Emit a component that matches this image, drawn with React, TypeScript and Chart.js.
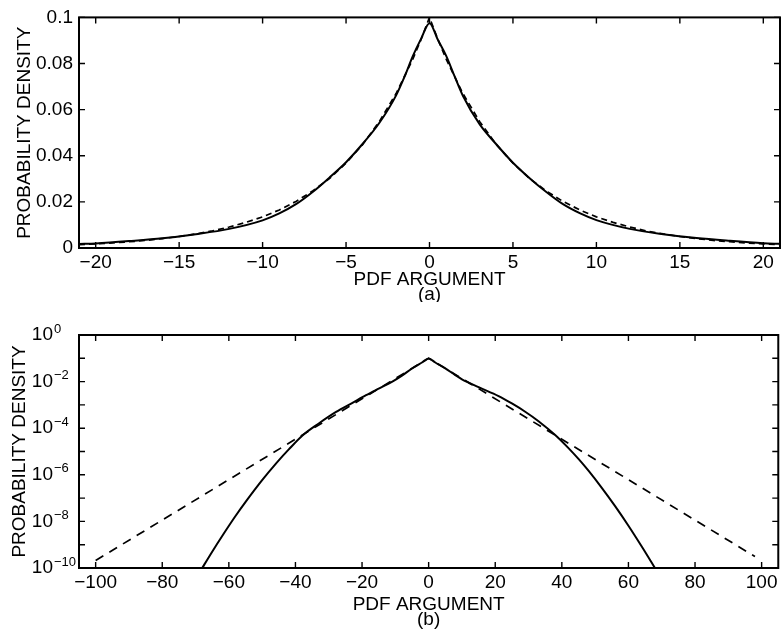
import React, { useEffect, useRef } from "react";
import { Chart, registerables } from "chart.js";
Chart.register(...registerables);

const FONT = "'Liberation Sans', Arial, Helvetica, sans-serif";
const FS = 19;

// ---------- Panel (a): linear density ----------
const A_X_TICKS = [-20, -15, -10, -5, 0, 5, 10, 15, 20];
const A_X_LABELS = ["\u221220", "\u221215", "\u221210", "\u22125", "0", "5", "10", "15", "20"];
const A_Y_TICKS = [0, 0.02, 0.04, 0.06, 0.08, 0.1];
const A_Y_LABELS = ["0", "0.02", "0.04", "0.06", "0.08", "0.1"];

const A_SOLID_X = [-21, -20, -18, -16, -14, -12, -10, -9, -8, -7, -6, -5, -4, -3, -2, -1.5, -1, -0.5, 0, 0.5, 1, 1.5, 2, 3, 4, 5, 6, 7, 8, 9, 10, 12, 14, 16, 18, 20, 21];
const A_SOLID_Y = [0.0017, 0.0020, 0.0030, 0.0042, 0.0060, 0.0083, 0.0120, 0.0150, 0.0190, 0.0243, 0.0305, 0.0372, 0.0452, 0.0543, 0.0662, 0.0742, 0.0832, 0.0908, 0.0975, 0.0903, 0.0833, 0.0745, 0.0660, 0.0537, 0.0450, 0.0370, 0.0303, 0.0243, 0.0190, 0.0151, 0.0121, 0.0083, 0.0060, 0.0043, 0.0031, 0.0021, 0.0018];

const A_DASH_X = [-21, -20, -19, -18, -17, -16, -15, -14, -13, -12, -11, -10, -9, -8, -7, -6, -5, -4, -3, -2, -1, -0.5, 0, 0.5, 1, 2, 3, 4, 5, 6, 7, 8, 9, 10, 11, 12, 13, 14, 15, 16, 17, 18, 19, 20, 21];
const A_DASH_Y = [0.0015, 0.0018, 0.0022, 0.0027, 0.0033, 0.0041, 0.0050, 0.0061, 0.0074, 0.0091, 0.0111, 0.0135, 0.0165, 0.0202, 0.0247, 0.0301, 0.0368, 0.0449, 0.0549, 0.0670, 0.0819, 0.0905, 0.1000, 0.0905, 0.0819, 0.0670, 0.0549, 0.0449, 0.0368, 0.0301, 0.0247, 0.0202, 0.0165, 0.0135, 0.0111, 0.0091, 0.0074, 0.0061, 0.0050, 0.0041, 0.0033, 0.0027, 0.0022, 0.0018, 0.0015];

// ---------- Panel (b): log density ----------
const B_X_TICKS = [-100, -80, -60, -40, -20, 0, 20, 40, 60, 80, 100];
const B_X_LABELS = ["\u2212100", "\u221280", "\u221260", "\u221240", "\u221220", "0", "20", "40", "60", "80", "100"];
const B_Y_TICKS = [1, 1e-1, 1e-2, 1e-3, 1e-4, 1e-5, 1e-6, 1e-7, 1e-8, 1e-9, 1e-10];
const B_Y_EXP_LABELS = ["0", "", "\u22122", "", "\u22124", "", "\u22126", "", "\u22128", "", "\u221210"];

const B_SOLID_X = [-68.5, -65, -61.8, -58, -54.8, -50, -45.8, -42, -37.8, -33, -27.8, -23, -18.8, -15, -10.9, -8, -5, -2, 0, 2, 5, 8, 10, 15, 21, 25, 29, 33, 38, 42, 45, 48, 52, 56, 60, 64, 68.3];
const B_SOLID_Y = [7.6e-11, 5.0e-10, 2.6e-9, 1.7e-8, 7.4e-8, 5.9e-7, 3.1e-6, 1.23e-5, 5.0e-5, 1.6e-4, 5.0e-4, 1.2e-3, 2.6e-3, 5.0e-3, 1.0e-2, 0.018, 0.0365, 0.066, 0.0975, 0.066, 0.0372, 0.019, 0.0126, 0.0058, 0.0024, 1.15e-3, 5.1e-4, 2.0e-4, 5.1e-5, 1.4e-5, 4.8e-6, 1.5e-6, 2.75e-7, 4.5e-8, 6.5e-9, 8.3e-10, 8.3e-11];

const B_DASH_X = [-100, 0, 98];
const B_DASH_Y = [2.1e-10, 0.1, 3.1e-10];

const pts = (xs: number[], ys: number[]) => xs.map((x, i) => ({ x, y: ys[i] }));

const framePlugin = {
  id: "frameTicks",
  afterDraw(chart: any, _args: any, opts: any) {
    const { ctx, chartArea: a } = chart;
    const xs = chart.scales.x;
    const ys = chart.scales.y;
    const L = 6;
    ctx.save();
    ctx.strokeStyle = "#000";
    ctx.lineWidth = 2;
    ctx.strokeRect(a.left, a.top, a.right - a.left, a.bottom - a.top);
    ctx.lineWidth = 1.4;
    ctx.beginPath();
    xs.ticks.forEach((t: any) => {
      const p = xs.getPixelForValue(t.value);
      ctx.moveTo(p, a.bottom);
      ctx.lineTo(p, a.bottom - L);
      ctx.moveTo(p, a.top);
      ctx.lineTo(p, a.top + L);
    });
    ys.ticks.forEach((t: any) => {
      const p = ys.getPixelForValue(t.value);
      ctx.moveTo(a.left, p);
      ctx.lineTo(a.left + L, p);
      ctx.moveTo(a.right, p);
      ctx.lineTo(a.right - L, p);
    });
    ctx.stroke();
    if (opts && opts.powerLabels) {
      ctx.fillStyle = "#000";
      ctx.textBaseline = "middle";
      ys.ticks.forEach((t: any, i: number) => {
        const lab = opts.powerLabels[i];
        if (!lab) return;
        const p = ys.getPixelForValue(t.value);
        ctx.font = `${FS}px ${FONT}`;
        ctx.textAlign = "right";
        ctx.fillText("10", 53, p);
        ctx.font = `13px ${FONT}`;
        ctx.textAlign = "left";
        ctx.fillText(lab, 54, p - 6);
      });
    }
    ctx.restore();
  },
};

function makeConfig(opts: {
  solid: { x: number; y: number }[];
  dashed: { x: number; y: number }[];
  dash: number[];
  xMin: number;
  xMax: number;
  xTicks: number[];
  xLabels: string[];
  yType: "linear" | "logarithmic";
  yMin: number;
  yMax: number;
  yTicks: number[];
  yLabels: string[] | null;
  powerLabels: string[] | null;
  padTop: number;
  xAxisH: number;
  yTitlePad: number;
  xTitlePadBottom: number;
  sub: string;
}) {
  return {
    type: "line" as const,
    data: {
      datasets: [
        {
          data: opts.solid,
          borderColor: "#000",
          borderWidth: 2,
          pointRadius: 0,
          cubicInterpolationMode: "monotone" as const,
          fill: false,
        },
        {
          data: opts.dashed,
          borderColor: "#000",
          borderWidth: 1.7,
          borderDash: opts.dash,
          pointRadius: 0,
          tension: 0,
          fill: false,
        },
      ],
    },
    options: {
      responsive: false,
      animation: false as const,
      devicePixelRatio: 1,
      layout: { padding: { top: opts.padTop, right: 1, left: 0, bottom: 0 } },
      plugins: {
        legend: { display: false },
        tooltip: { enabled: false },
        frameTicks: { powerLabels: opts.powerLabels },
      },
      scales: {
        x: {
          type: "linear" as const,
          min: opts.xMin,
          max: opts.xMax,
          grid: { display: false, drawTicks: false },
          border: { display: false },
          afterBuildTicks: (s: any) => {
            s.ticks = opts.xTicks.map((v) => ({ value: v }));
          },
          afterFit: (s: any) => {
            s.height = opts.xAxisH;
          },
          ticks: {
            autoSkip: false,
            maxRotation: 0,
            padding: 3.5,
            color: "#000",
            font: { family: FONT, size: FS },
            callback: (_v: any, i: number) => opts.xLabels[i],
          },
          title: {
            display: true,
            text: ["PDF ARGUMENT", opts.sub],
            color: "#000",
            font: { family: FONT, size: FS, lineHeight: 0.75 },
            padding: { top: 0, bottom: opts.xTitlePadBottom },
          },
        },
        y: {
          type: opts.yType,
          min: opts.yMin,
          max: opts.yMax,
          grid: { display: false, drawTicks: false },
          border: { display: false },
          afterBuildTicks: (s: any) => {
            s.ticks = opts.yTicks.map((v) => ({ value: v }));
          },
          afterFit: (s: any) => {
            s.width = 79;
          },
          ticks: {
            display: opts.yLabels !== null,
            autoSkip: false,
            padding: 6,
            color: "#000",
            font: { family: FONT, size: FS },
            callback: (_v: any, i: number) => (opts.yLabels ? opts.yLabels[i] : ""),
          },
          title: {
            display: true,
            text: "PROBABILITY DENSITY",
            color: "#000",
            font: { family: FONT, size: FS },
            padding: { top: opts.yTitlePad, bottom: 0 },
          },
        },
      },
    },
    plugins: [framePlugin],
  };
}

function Panel(props: { width: number; height: number; top: number; config: any }) {
  const ref = useRef<HTMLCanvasElement | null>(null);
  useEffect(() => {
    if (!ref.current) return;
    const chart = new Chart(ref.current, props.config);
    return () => chart.destroy();
  }, []);
  return (
    <canvas
      ref={ref}
      width={props.width}
      height={props.height}
      style={{ position: "absolute", left: 0, top: props.top, width: props.width, height: props.height }}
    />
  );
}

export default function App() {
  const cfgA = makeConfig({
    solid: pts(A_SOLID_X, A_SOLID_Y),
    dashed: pts(A_DASH_X, A_DASH_Y),
    dash: [6, 4],
    xMin: -21,
    xMax: 21,
    xTicks: A_X_TICKS,
    xLabels: A_X_LABELS,
    yType: "linear",
    yMin: 0,
    yMax: 0.1,
    yTicks: A_Y_TICKS,
    yLabels: A_Y_LABELS,
    powerLabels: null,
    padTop: 15,
    xAxisH: 302 - 248,
    yTitlePad: 13.6,
    xTitlePadBottom: 0.6,
    sub: "(a)",
  });
  const cfgB = makeConfig({
    solid: pts(B_SOLID_X, B_SOLID_Y),
    dashed: pts(B_DASH_X, B_DASH_Y),
    dash: [9, 7],
    xMin: -105,
    xMax: 105,
    xTicks: B_X_TICKS,
    xLabels: B_X_LABELS,
    yType: "logarithmic",
    yMin: 1e-10,
    yMax: 1,
    yTicks: B_Y_TICKS,
    yLabels: null,
    powerLabels: B_Y_EXP_LABELS,
    padTop: 33,
    xAxisH: 330 - 266,
    yTitlePad: 8.6,
    xTitlePadBottom: 5.6,
    sub: "(b)",
  });
  return (
    <div style={{ position: "absolute", left: 0, top: 0, width: 781, height: 632, background: "#fff" }}>
      <Panel width={781} height={302} top={0} config={cfgA} />
      <Panel width={781} height={330} top={302} config={cfgB} />
    </div>
  );
}
